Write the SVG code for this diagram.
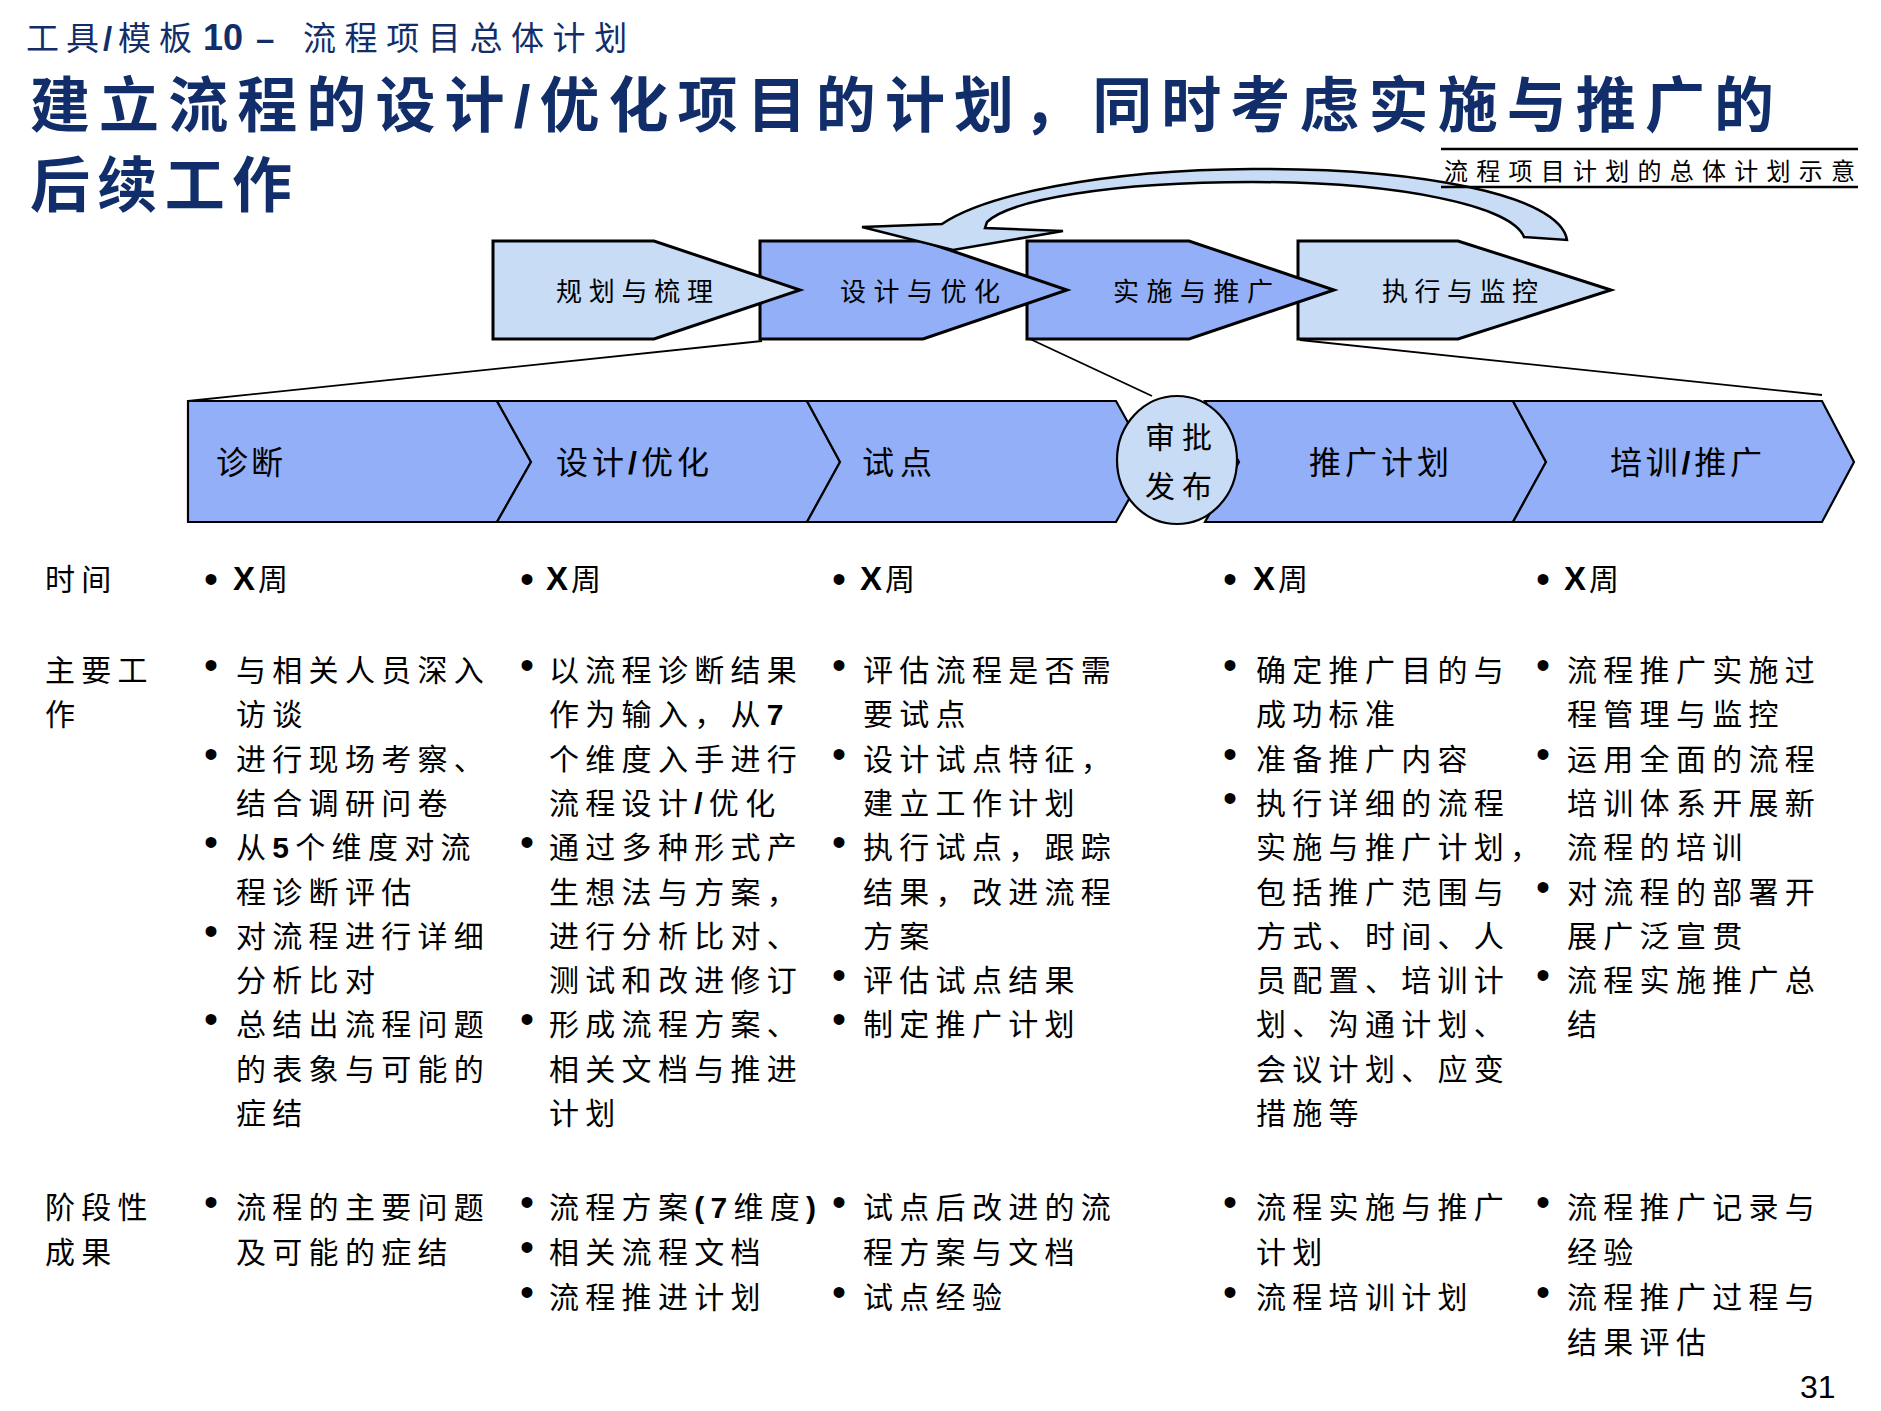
<svg xmlns="http://www.w3.org/2000/svg" width="1881" height="1411" viewBox="0 0 1881 1411">
<style>
.cjk{font-family:"Noto Sans CJK SC","Noto Sans CJK TC",sans-serif;fill:#000}
.body{font-size:30px;letter-spacing:6.3px}
.lat{font-family:"Liberation Sans",Arial,sans-serif;font-weight:bold}
.bl{font-family:"Liberation Sans",Arial,sans-serif;font-size:40px;fill:#000}
.navy{fill:#112e6a}
.light{fill:#c8dcf6;stroke:#000;stroke-width:3;stroke-linejoin:miter}
.mid{fill:#92aff8;stroke:#000;stroke-width:3;stroke-linejoin:miter}
.band{fill:#92aff8;stroke:#000;stroke-width:2.2;stroke-linejoin:miter}
.conn{stroke:#000;stroke-width:1.8;fill:none}
.lbl{font-size:26px}
.stg{font-size:32px}
</style>
<rect width="1881" height="1411" fill="#fff"/>

<g id="header" class="cjk navy" font-size="33">
<text x="26" y="50" letter-spacing="7">工具</text>
<text class="lat" x="103" y="50" font-size="33" font-weight="normal">/</text>
<text x="118" y="50" letter-spacing="8">模板</text>
<text class="lat" x="203" y="50" font-size="36">10</text>
<text class="lat" x="256" y="50" font-size="33">–</text>
<text x="303" y="50" letter-spacing="8.6">流程项目总体计划</text>
</g>

<g id="title">
<text class="cjk navy" x="30" y="127" font-size="60" font-weight="bold" textLength="1744" lengthAdjust="spacing">建立流程的设计<tspan class="lat">/</tspan>优化项目的计划，同时考虑实施与推广的</text>
<text class="cjk navy" x="30" y="207" font-size="60" font-weight="bold" textLength="262" lengthAdjust="spacing">后续工作</text>
</g>

<g id="phase-chevrons">
<g id="phase-4"><path class="light" d="M1298,241 L1458,241 L1611,290 L1458,339 L1298,339 Z"/>
<text class="cjk lbl" x="1382" y="301" textLength="156" lengthAdjust="spacing">执行与监控</text></g>
<g id="phase-3"><path class="mid" d="M1027,241 L1189,241 L1334,290 L1189,339 L1027,339 Z"/>
<text class="cjk lbl" x="1113" y="301" textLength="160" lengthAdjust="spacing">实施与推广</text></g>
<g id="phase-2"><path class="mid" d="M760,241 L923,241 L1067,290 L923,339 L760,339 Z"/>
<text class="cjk lbl" x="840" y="301" textLength="160" lengthAdjust="spacing">设计与优化</text></g>
<g id="phase-1"><path class="light" d="M493,241 L654,241 L800,290 L654,339 L493,339 Z"/>
<text class="cjk lbl" x="556" y="301" textLength="157" lengthAdjust="spacing">规划与梳理</text></g>
</g>

<g id="loop-arrow">
<path fill="#c8dcf6" stroke="#000" stroke-width="2.5" stroke-linejoin="miter" d="M862,227 L942,224 C985,195 1100,170 1252,169 C1420,168 1560,195 1567,240 L1524,237 C1512,206 1400,182 1252,182 C1110,182 1010,200 987,222 L985,228 L1063,231 L953,250 Z"/>
</g>

<g id="caption">
<line x1="1441" y1="149" x2="1858" y2="149" stroke="#000" stroke-width="2.5"/>
<line x1="1441" y1="187" x2="1858" y2="187" stroke="#000" stroke-width="2.5"/>
<text class="cjk" x="1444" y="180" font-size="24" textLength="411" lengthAdjust="spacing">流程项目计划的总体计划示意</text>
</g>

<g id="connectors">
<line class="conn" x1="762" y1="341" x2="188" y2="401"/>
<line class="conn" x1="1030" y1="339" x2="1152" y2="396"/>
<line class="conn" x1="1300" y1="340" x2="1822" y2="395"/>
</g>

<g id="stage-band">
<g id="stage-diagnose"><path class="band" d="M188,401 L497,401 L531,462 L497,522 L188,522 Z"/>
<text class="cjk stg" x="216" y="474" textLength="67" lengthAdjust="spacing">诊断</text></g>
<g id="stage-design"><path class="band" d="M497,401 L807,401 L840,462 L807,522 L497,522 L531,462 Z"/>
<text class="cjk stg" x="556" y="474" textLength="153" lengthAdjust="spacing">设计<tspan class="lat" font-weight="normal">/</tspan>优化</text></g>
<g id="stage-pilot"><path class="band" d="M807,401 L1116,401 L1150,462 L1116,522 L807,522 L840,462 Z"/>
<text class="cjk stg" x="862" y="474" textLength="70" lengthAdjust="spacing">试点</text></g>
<g id="stage-rollout-plan"><path class="band" d="M1205,401 L1513,401 L1546,462 L1513,522 L1205,522 L1239,462 Z"/>
<text class="cjk stg" x="1309" y="474" textLength="140" lengthAdjust="spacing">推广计划</text></g>
<g id="stage-training"><path class="band" d="M1513,401 L1822,401 L1854,462 L1822,522 L1513,522 L1546,462 Z"/>
<text class="cjk stg" x="1610" y="474" textLength="152" lengthAdjust="spacing">培训<tspan class="lat" font-weight="normal">/</tspan>推广</text></g>
<g id="approval"><ellipse cx="1177" cy="460" rx="60" ry="64" fill="#c8dcf6" stroke="#000" stroke-width="2.2"/>
<text class="cjk" x="1145" y="448" font-size="30" textLength="67" lengthAdjust="spacing">审批</text>
<text class="cjk" x="1145" y="497" font-size="30" textLength="67" lengthAdjust="spacing">发布</text></g>
</g>

<g id="row-labels" class="cjk body">
<text x="45" y="590">时间</text>
<text x="45" y="681">主要工</text>
<text x="45" y="725">作</text>
<text x="45" y="1218">阶段性</text>
<text x="45" y="1263">成果</text>
</g>

<g id="time-row">
<text class="bl" x="204" y="593">•</text><text class="cjk" x="233" y="590" font-size="30"><tspan class="lat" font-size="33">X</tspan><tspan dx="3">周</tspan></text>
<text class="bl" x="520" y="593">•</text><text class="cjk" x="546" y="590" font-size="30"><tspan class="lat" font-size="33">X</tspan><tspan dx="3">周</tspan></text>
<text class="bl" x="832" y="593">•</text><text class="cjk" x="860" y="590" font-size="30"><tspan class="lat" font-size="33">X</tspan><tspan dx="3">周</tspan></text>
<text class="bl" x="1223" y="593">•</text><text class="cjk" x="1253" y="590" font-size="30"><tspan class="lat" font-size="33">X</tspan><tspan dx="3">周</tspan></text>
<text class="bl" x="1536" y="593">•</text><text class="cjk" x="1564" y="590" font-size="30"><tspan class="lat" font-size="33">X</tspan><tspan dx="3">周</tspan></text>
</g>

<g id="work-col-1">
<text class="bl" x="204" y="679">•</text><text class="cjk body" x="236" y="681">与相关人员深入</text>
<text class="cjk body" x="236" y="725">访谈</text>
<text class="bl" x="204" y="768">•</text><text class="cjk body" x="236" y="770">进行现场考察、</text>
<text class="cjk body" x="236" y="814">结合调研问卷</text>
<text class="bl" x="204" y="856">•</text><text class="cjk body" x="236" y="858">从<tspan class="lat">5</tspan>个维度对流</text>
<text class="cjk body" x="236" y="903">程诊断评估</text>
<text class="bl" x="204" y="945">•</text><text class="cjk body" x="236" y="947">对流程进行详细</text>
<text class="cjk body" x="236" y="991">分析比对</text>
<text class="bl" x="204" y="1033">•</text><text class="cjk body" x="236" y="1035">总结出流程问题</text>
<text class="cjk body" x="236" y="1080">的表象与可能的</text>
<text class="cjk body" x="236" y="1124">症结</text>
</g>

<g id="work-col-2">
<text class="bl" x="520" y="679">•</text><text class="cjk body" x="549" y="681">以流程诊断结果</text>
<text class="cjk body" x="549" y="725">作为输入，从<tspan class="lat">7</tspan></text>
<text class="cjk body" x="549" y="770">个维度入手进行</text>
<text class="cjk body" x="549" y="814">流程设计<tspan class="lat">/</tspan>优化</text>
<text class="bl" x="520" y="856">•</text><text class="cjk body" x="549" y="858">通过多种形式产</text>
<text class="cjk body" x="549" y="903">生想法与方案，</text>
<text class="cjk body" x="549" y="947">进行分析比对、</text>
<text class="cjk body" x="549" y="991">测试和改进修订</text>
<text class="bl" x="520" y="1033">•</text><text class="cjk body" x="549" y="1035">形成流程方案、</text>
<text class="cjk body" x="549" y="1080">相关文档与推进</text>
<text class="cjk body" x="549" y="1124">计划</text>
</g>

<g id="work-col-3">
<text class="bl" x="832" y="679">•</text><text class="cjk body" x="863" y="681">评估流程是否需</text>
<text class="cjk body" x="863" y="725">要试点</text>
<text class="bl" x="832" y="768">•</text><text class="cjk body" x="863" y="770">设计试点特征，</text>
<text class="cjk body" x="863" y="814">建立工作计划</text>
<text class="bl" x="832" y="856">•</text><text class="cjk body" x="863" y="858">执行试点，跟踪</text>
<text class="cjk body" x="863" y="903">结果，改进流程</text>
<text class="cjk body" x="863" y="947">方案</text>
<text class="bl" x="832" y="989">•</text><text class="cjk body" x="863" y="991">评估试点结果</text>
<text class="bl" x="832" y="1033">•</text><text class="cjk body" x="863" y="1035">制定推广计划</text>
</g>

<g id="work-col-4">
<text class="bl" x="1223" y="679">•</text><text class="cjk body" x="1256" y="681">确定推广目的与</text>
<text class="cjk body" x="1256" y="725">成功标准</text>
<text class="bl" x="1223" y="768">•</text><text class="cjk body" x="1256" y="770">准备推广内容</text>
<text class="bl" x="1223" y="812">•</text><text class="cjk body" x="1256" y="814">执行详细的流程</text>
<text class="cjk body" x="1256" y="858">实施与推广计划，</text>
<text class="cjk body" x="1256" y="903">包括推广范围与</text>
<text class="cjk body" x="1256" y="947">方式、时间、人</text>
<text class="cjk body" x="1256" y="991">员配置、培训计</text>
<text class="cjk body" x="1256" y="1035">划、沟通计划、</text>
<text class="cjk body" x="1256" y="1080">会议计划、应变</text>
<text class="cjk body" x="1256" y="1124">措施等</text>
</g>

<g id="work-col-5">
<text class="bl" x="1536" y="679">•</text><text class="cjk body" x="1567" y="681">流程推广实施过</text>
<text class="cjk body" x="1567" y="725">程管理与监控</text>
<text class="bl" x="1536" y="768">•</text><text class="cjk body" x="1567" y="770">运用全面的流程</text>
<text class="cjk body" x="1567" y="814">培训体系开展新</text>
<text class="cjk body" x="1567" y="858">流程的培训</text>
<text class="bl" x="1536" y="901">•</text><text class="cjk body" x="1567" y="903">对流程的部署开</text>
<text class="cjk body" x="1567" y="947">展广泛宣贯</text>
<text class="bl" x="1536" y="989">•</text><text class="cjk body" x="1567" y="991">流程实施推广总</text>
<text class="cjk body" x="1567" y="1035">结</text>
</g>

<g id="result-row">
<text class="bl" x="204" y="1216">•</text><text class="cjk body" x="236" y="1218">流程的主要问题</text>
<text class="cjk body" x="236" y="1263">及可能的症结</text>
<text class="bl" x="520" y="1216">•</text><text class="cjk body" x="549" y="1218">流程方案<tspan class="lat">(7</tspan>维度<tspan class="lat">)</tspan></text>
<text class="bl" x="520" y="1261">•</text><text class="cjk body" x="549" y="1263">相关流程文档</text>
<text class="bl" x="520" y="1306">•</text><text class="cjk body" x="549" y="1308">流程推进计划</text>
<text class="bl" x="832" y="1216">•</text><text class="cjk body" x="863" y="1218">试点后改进的流</text>
<text class="cjk body" x="863" y="1263">程方案与文档</text>
<text class="bl" x="832" y="1306">•</text><text class="cjk body" x="863" y="1308">试点经验</text>
<text class="bl" x="1223" y="1216">•</text><text class="cjk body" x="1256" y="1218">流程实施与推广</text>
<text class="cjk body" x="1256" y="1263">计划</text>
<text class="bl" x="1223" y="1306">•</text><text class="cjk body" x="1256" y="1308">流程培训计划</text>
<text class="bl" x="1536" y="1216">•</text><text class="cjk body" x="1567" y="1218">流程推广记录与</text>
<text class="cjk body" x="1567" y="1263">经验</text>
<text class="bl" x="1536" y="1306">•</text><text class="cjk body" x="1567" y="1308">流程推广过程与</text>
<text class="cjk body" x="1567" y="1353">结果评估</text>
</g>

<g id="page-number">
<text x="1800" y="1398" font-family="Liberation Sans, Arial, sans-serif" font-size="32" fill="#000">31</text>
</g>
</svg>
